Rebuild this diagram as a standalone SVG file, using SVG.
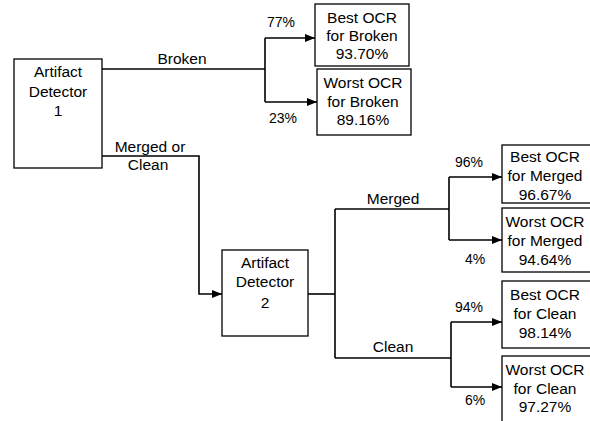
<svg xmlns="http://www.w3.org/2000/svg" width="590" height="421" viewBox="0 0 590 421">
  <style>
    .box { fill: #fff; stroke: #000; stroke-width: 1.3; }
    .t { font-family: "Liberation Sans", Arial, sans-serif; font-size: 15.5px; fill: #000; text-anchor: middle; }
    .p { font-family: "Liberation Sans", Arial, sans-serif; font-size: 14px; fill: #000; text-anchor: middle; }
    .ln { fill: none; stroke: #000; stroke-width: 1.6; }
  </style>
  <defs>
    <marker id="arr" viewBox="0 0 10 8" refX="10" refY="4" markerWidth="10" markerHeight="8" markerUnits="userSpaceOnUse" orient="auto">
      <path d="M0,0 L10,4 L0,8 z" fill="#000"/>
    </marker>
  </defs>
  <rect width="590" height="421" fill="#fff"/>

  <g id="connectors">
    <!-- detector 1: broken branch -->
    <path class="ln" d="M102,69 H265"/>
    <path class="ln" d="M265,38 V102"/>
    <path class="ln" d="M265,38 H315" marker-end="url(#arr)"/>
    <path class="ln" d="M265,102 H317" marker-end="url(#arr)"/>
    <!-- detector 1: merged or clean to detector 2 -->
    <path class="ln" d="M102,156 H199 V294 H222" marker-end="url(#arr)"/>
    <!-- detector 2 split -->
    <path class="ln" d="M308,294 H335"/>
    <path class="ln" d="M335,209 V358"/>
    <path class="ln" d="M335,209 H449"/>
    <path class="ln" d="M449,177 V240"/>
    <path class="ln" d="M449,177 H502" marker-end="url(#arr)"/>
    <path class="ln" d="M449,240 H502" marker-end="url(#arr)"/>
    <path class="ln" d="M335,358 H451"/>
    <path class="ln" d="M451,322 V387"/>
    <path class="ln" d="M451,322 H502" marker-end="url(#arr)"/>
    <path class="ln" d="M451,387 H502" marker-end="url(#arr)"/>

    <text class="t" x="182" y="64">Broken</text>
    <text class="p" x="281" y="27">77%</text>
    <text class="p" x="283" y="123">23%</text>
    <text class="t" x="150" y="152">Merged or</text>
    <text class="t" x="148" y="170">Clean</text>
    <text class="t" x="393" y="204">Merged</text>
    <text class="t" x="393" y="352">Clean</text>
    <text class="p" x="469" y="167">96%</text>
    <text class="p" x="475" y="264">4%</text>
    <text class="p" x="469" y="312">94%</text>
    <text class="p" x="475" y="405">6%</text>
  </g>

  <g id="detector1">
    <rect class="box" x="14" y="59" width="88" height="109"/>
    <text class="t" x="58" y="77">Artifact</text>
    <text class="t" x="58" y="97">Detector</text>
    <text class="t" x="58" y="116">1</text>
  </g>

  <g id="detector2">
    <rect class="box" x="222" y="250" width="86" height="86"/>
    <text class="t" x="265" y="268">Artifact</text>
    <text class="t" x="265" y="287">Detector</text>
    <text class="t" x="265" y="308">2</text>
  </g>

  <g id="best-broken">
    <rect class="box" x="315" y="4" width="94" height="62"/>
    <text class="t" x="362" y="23">Best OCR</text>
    <text class="t" x="362" y="41">for Broken</text>
    <text class="t" x="362" y="59">93.70%</text>
  </g>

  <g id="worst-broken">
    <rect class="box" x="317" y="69" width="94" height="66"/>
    <text class="t" x="363" y="88">Worst OCR</text>
    <text class="t" x="363" y="107">for Broken</text>
    <text class="t" x="363" y="125">89.16%</text>
  </g>

  <g id="best-merged">
    <rect class="box" x="502" y="145" width="100" height="58"/>
    <text class="t" x="545" y="162">Best OCR</text>
    <text class="t" x="545" y="181">for Merged</text>
    <text class="t" x="545" y="200">96.67%</text>
  </g>

  <g id="worst-merged">
    <rect class="box" x="502" y="208" width="100" height="64"/>
    <text class="t" x="545" y="227">Worst OCR</text>
    <text class="t" x="545" y="246">for Merged</text>
    <text class="t" x="545" y="265">94.64%</text>
  </g>

  <g id="best-clean">
    <rect class="box" x="502" y="281" width="100" height="67"/>
    <text class="t" x="545" y="300">Best OCR</text>
    <text class="t" x="545" y="319">for Clean</text>
    <text class="t" x="545" y="338">98.14%</text>
  </g>

  <g id="worst-clean">
    <rect class="box" x="502" y="356" width="100" height="80"/>
    <text class="t" x="545" y="375">Worst OCR</text>
    <text class="t" x="545" y="394">for Clean</text>
    <text class="t" x="545" y="412">97.27%</text>
  </g>
</svg>
